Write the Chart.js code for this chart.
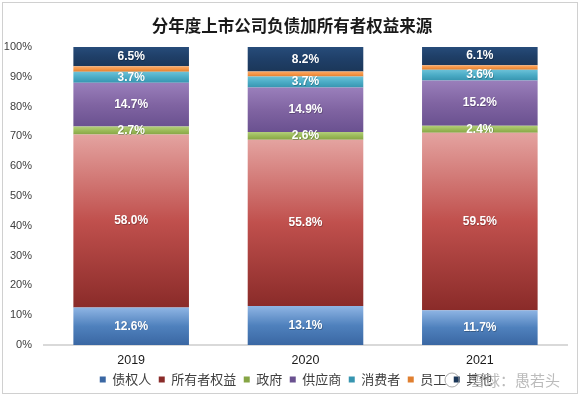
<!DOCTYPE html>
<html><head><meta charset="utf-8">
<script src="https://cdn.jsdelivr.net/npm/chart.js@4/dist/chart.umd.min.js"></script>
<style>html,body{margin:0;padding:0;background:#fff}#wrap{width:584px;height:396px}</style>
</head><body><div id="wrap"><canvas id="c" width="584" height="396"></canvas></div>
<script>
const categories = ['2019', '2020', '2021'];
const seriesNames = ['债权人', '所有者权益', '政府', '供应商', '消费者', '员工', '其他'];
const creditors  = [12.6, 13.1, 11.7];
const equity     = [58.0, 55.8, 59.5];
const government = [2.7, 2.6, 2.4];
const suppliers  = [14.7, 14.9, 15.2];
const consumers  = [3.7, 3.7, 3.6];
const employees  = [1.8, 1.7, 1.5];
const others     = [6.5, 8.2, 6.1];
const yTickStep = 10;

const allSeries = [creditors, equity, government, suppliers, consumers, employees, others];
const solid   = ['#4f81bd', '#c0504d', '#9bbb59', '#8064a2', '#4bacc6', '#f79646', '#1f3f68'];
const topCol  = ['#8fb5e4', '#e4a3a0', '#b3cf7a', '#9a7fbb', '#6cc2d8', '#f9aa6a', '#274c7a'];
const botCol  = ['#3a67a3', '#8a2b29', '#86a545', '#6a5190', '#3795b0', '#e07f30', '#1b3759'];
const showLabel = [true, true, true, true, true, false, true];

function fillFor(i) {
  return function (ctx) {
    const c = ctx.chart;
    if (ctx.type !== 'data' || !c.chartArea || !c.scales || !c.scales.y) return solid[i];
    let base = 0;
    for (let k = 0; k < i; k++) base += allSeries[k][ctx.dataIndex];
    const top = base + allSeries[i][ctx.dataIndex];
    const y0 = c.scales.y.getPixelForValue(top);
    const y1 = c.scales.y.getPixelForValue(base);
    if (!isFinite(y0) || !isFinite(y1) || y0 === y1) return solid[i];
    const g = c.ctx.createLinearGradient(0, y0, 0, y1);
    g.addColorStop(0, topCol[i]);
    g.addColorStop(0.5, solid[i]);
    g.addColorStop(1, botCol[i]);
    return g;
  };
}

const datasets = allSeries.map((vals, i) => ({
  label: seriesNames[i],
  data: vals,
  backgroundColor: fillFor(i),
  borderWidth: 0,
  categoryPercentage: 1,
  barPercentage: 0.663
}));

const framePlugin = {
  id: 'frame',
  beforeDraw(chart) {
    const ctx = chart.ctx;
    ctx.save();
    ctx.fillStyle = '#fff';
    ctx.fillRect(0, 0, chart.width, chart.height);
    ctx.restore();
  },
  afterDraw(chart) {
    const ctx = chart.ctx;
    ctx.save();
    ctx.strokeStyle = '#d0d0d0';
    ctx.lineWidth = 1;
    ctx.strokeRect(2.5, 2.5, 575, 391);
    // watermark
    ctx.strokeStyle = 'rgba(150,150,150,0.8)';
    ctx.beginPath();
    ctx.arc(452, 380, 7, 0, Math.PI * 2);
    ctx.stroke();
    ctx.font = '15px "Noto Sans CJK SC"';
    ctx.fillStyle = 'rgba(175,175,175,0.85)';
    ctx.textBaseline = 'middle';
    ctx.fillText('雪球：愚若头', 470, 380);
    ctx.restore();
  }
};

const labelPlugin = {
  id: 'segLabels',
  afterDatasetsDraw(chart) {
    const ctx = chart.ctx;
    ctx.save();
    ctx.font = 'bold 12px "Liberation Sans", Arial, sans-serif';
    ctx.textAlign = 'center';
    ctx.textBaseline = 'middle';
    chart.data.datasets.forEach((ds, i) => {
      if (!showLabel[i]) return;
      const meta = chart.getDatasetMeta(i);
      meta.data.forEach((el, j) => {
        const v = ds.data[j];
        const y = (el.y + el.base) / 2;
        ctx.fillStyle = 'rgba(0,0,0,0.25)';
        ctx.fillText(v.toFixed(1) + '%', el.x + 0.6, y + 0.8);
        ctx.fillStyle = '#ffffff';
        ctx.fillText(v.toFixed(1) + '%', el.x, y);
      });
    });
    ctx.restore();
  }
};

const chart = new Chart(document.getElementById('c'), {
  type: 'bar',
  data: { labels: categories, datasets },
  options: {
    responsive: false,
    animation: false,
    layout: { padding: 0 },
    plugins: {
      title: {
        display: true,
        text: '分年度上市公司负债加所有者权益来源',
        color: '#1a1a1a',
        font: { size: 16.5, weight: 'bold', family: '"Noto Sans CJK SC", sans-serif' },
        padding: { top: 15.6, bottom: 11.6 }
      },
      legend: {
        position: 'bottom',
        labels: {
          boxWidth: 6, boxHeight: 6, padding: 7.5,
          color: '#404040',
          font: { size: 13, family: '"Noto Sans CJK SC", sans-serif' }
        }
      },
      tooltip: { enabled: false }
    },
    scales: {
      x: {
        stacked: true,
        grid: { display: false, drawTicks: false },
        border: { display: true, color: '#d9d9d9', width: 2 },
        ticks: { color: '#1a1a1a', padding: 8.5, font: { size: 12.5, family: '"Liberation Sans", Arial, sans-serif' } },
        afterFit(s) { s.height = 20.5; }
      },
      y: {
        stacked: true,
        min: 0, max: 100,
        grid: { display: false, drawTicks: false },
        border: { display: false },
        ticks: {
          stepSize: yTickStep, padding: 12, color: '#404040',
          font: { size: 11, family: '"Liberation Sans", Arial, sans-serif' },
          callback: v => v + '%'
        },
        afterFit(s) { s.width = 44; }
      },
      yRight: {
        position: 'right',
        display: true,
        grid: { display: false, drawTicks: false },
        border: { display: false },
        ticks: { display: false },
        afterFit(s) { s.width = 17; }
      }
    }
  },
  plugins: [framePlugin, labelPlugin]
});

const lg = chart.legend;
const origDraw = lg.draw.bind(lg);
lg.draw = function () {
  this.ctx.save();
  this.ctx.translate(4, 0);
  origDraw();
  this.ctx.restore();
};
chart.update();
</script></body></html>
